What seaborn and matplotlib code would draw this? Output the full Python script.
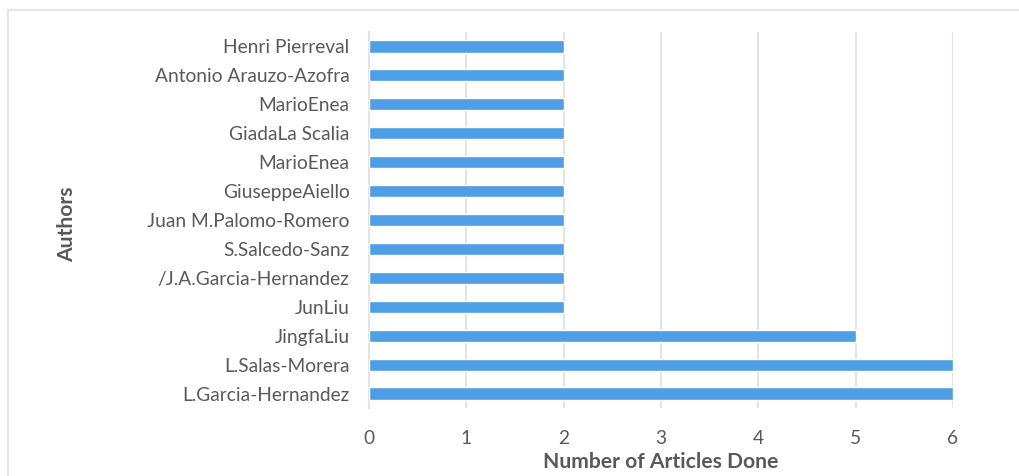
import matplotlib
matplotlib.use("Agg")
import matplotlib.pyplot as plt
import seaborn as sns
import pandas as pd
from matplotlib.patches import Rectangle

authors = [
    "Henri Pierreval",
    "Antonio Arauzo-Azofra",
    "MarioEnea",
    "GiadaLa Scalia",
    "MarioEnea",
    "GiuseppeAiello",
    "Juan M.Palomo-Romero",
    "S.Salcedo-Sanz",
    "/J.A.Garcia-Hernandez",
    "JunLiu",
    "JingfaLiu",
    "L.Salas-Morera",
    "L.Garcia-Hernandez",
]
articles = [2, 2, 2, 2, 2, 2, 2, 2, 2, 2, 5, 6, 6]
x_ticks = [0, 1, 2, 3, 4, 5, 6]

sns.set_theme(style="white")
plt.rcParams["font.family"] = ["Lato", "DejaVu Sans"]

# one row per slot so repeated names keep their own bar
df = pd.DataFrame({"slot": [str(i) for i in range(len(authors))],
                   "articles": articles})

fig = plt.figure(figsize=(10.2, 4.76), dpi=100)
fig.patch.set_facecolor("white")
# thin frame around the chart area
fig.patches.append(Rectangle((8 / 1020, -0.1), 1.2, 1 - 10 / 476 + 0.1,
                             transform=fig.transFigure, fill=False,
                             edgecolor="#E6E6E6", linewidth=1.5, zorder=0))

ax = fig.add_axes([369 / 1020, 1 - 408 / 476, 584 / 1020, 376 / 476])
sns.barplot(data=df, x="articles", y="slot", orient="h", color="#4F9FE6",
            saturation=1, width=0.42, ax=ax, zorder=3)

ax.set_xlim(0, 6)
ax.set_xticks(x_ticks)
ax.set_xticklabels([str(t) for t in x_ticks])
ax.set_yticks(range(len(authors)))
ax.set_yticklabels(authors)

ax.grid(axis="x", color="#E3E3E3", linewidth=1.5, zorder=0)
ax.grid(axis="y", visible=False)
for side in ["top", "right", "bottom"]:
    ax.spines[side].set_visible(False)
ax.spines["left"].set_color("#E3E3E3")
ax.spines["left"].set_linewidth(1.5)

ax.tick_params(axis="y", length=0, pad=14, labelsize=13.8, labelcolor="#595959")
ax.tick_params(axis="x", length=0, pad=16, labelsize=13.8, labelcolor="#595959")

ax.set_xlabel("Number of Articles Done", fontsize=15.2, fontweight="bold",
              color="#595959")
ax.set_ylabel("Authors", fontsize=15.2, fontweight="bold", color="#595959")
ax.xaxis.set_label_coords(0.5, -0.118)
ax.yaxis.set_label_coords(-0.499, 0.49)

fig.savefig("out.png", dpi=100, facecolor="white")
